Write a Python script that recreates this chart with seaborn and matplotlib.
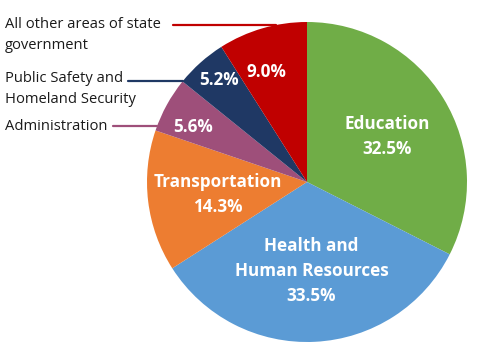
"""State spending pie chart recreation."""

import matplotlib.pyplot as plt
import numpy as np
import seaborn as sns

categories = [
    "Education",
    "Health and\nHuman Resources",
    "Transportation",
    "Administration",
    "Public Safety and\nHomeland Security",
    "All other areas of state\ngovernment",
]
shares = [32.5, 33.5, 14.3, 5.6, 5.2, 9.0]
colors = ["#70AD47", "#5B9BD5", "#ED7D31", "#9E4F7A", "#1F3864", "#C00000"]
# inside label text ("" -> only the percentage)
inner_names = ["Education", "Health and\nHuman Resources", "Transportation", "", "", ""]

sns.set_theme(style="white")
plt.rcParams["font.family"] = ["Open Sans", "DejaVu Sans"]

fig = plt.figure(figsize=(4.79, 3.59), dpi=100)
# pie centre at ~(307, 182) px from top-left, radius ~160 px
cx, cy_top, r = 307, 182, 160
cy = 359 - cy_top
ax = fig.add_axes([(cx - r) / 479, (cy - r) / 359, 2 * r / 479, 2 * r / 359])

wedges, _ = ax.pie(shares, colors=colors, startangle=90, counterclock=False,
                   radius=1.0, wedgeprops=dict(linewidth=0))
ax.set_xlim(-1, 1)
ax.set_ylim(-1, 1)
ax.set_aspect("auto")
ax.axis("off")

# radial distance of each inside label, plus a small angle shift (deg)
label_dist = [0.575, 0.555, 0.56, 0.79, 0.84, 0.73]
angle_shift = [-2, 0, 1, 3, -1, 4]
for w, name, share, d, da in zip(wedges, inner_names, shares, label_dist, angle_shift):
    mid = np.deg2rad((w.theta1 + w.theta2) / 2 + da)
    txt = f"{name}\n{share:.1f}%" if name else f"{share:.1f}%"
    ax.text(d * np.cos(mid), d * np.sin(mid), txt, ha="center", va="center",
            color="white", fontsize=12.3, fontweight="bold", linespacing=1.5)

# outside labels with leader lines: (text, text y px, line start x px, colour)
outside = [
    (categories[5], 35, 173, colors[5]),
    (categories[4], 89, 128, colors[4]),
    (categories[3], 126, 113, colors[3]),
]
line_y = [25, 81, 126]
for (txt, ty, x0, col), ly in zip(outside, line_y):
    fig.text(5 / 479, 1 - ty / 359, txt, ha="left", va="center", fontsize=10.6,
             color="#1a1a1a", linespacing=1.6)
    yd = (cy_top - ly) / r
    xs = (x0 - cx) / r
    xe = -np.sqrt(1 - yd ** 2)
    ax.plot([xs, xe], [yd, yd], color=col, lw=1.6, clip_on=False)

fig.savefig("out.png", dpi=100)
